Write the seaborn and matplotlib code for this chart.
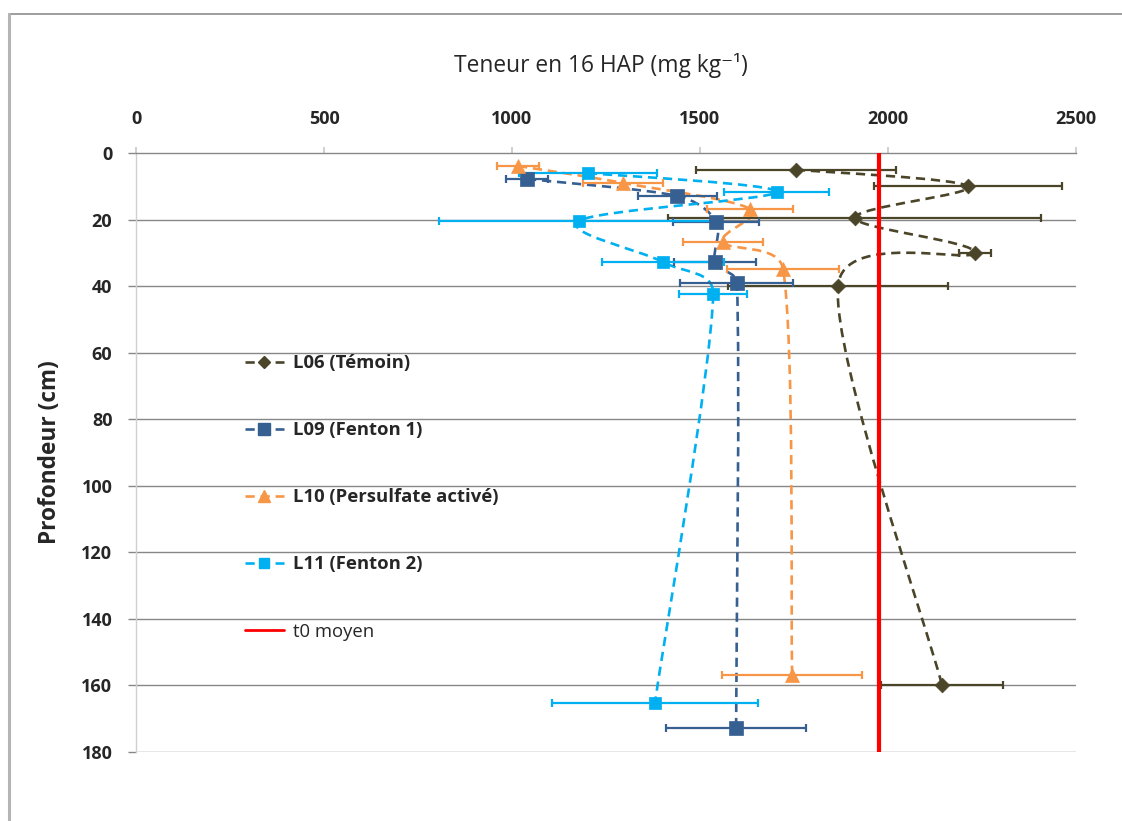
import numpy as np
import pandas as pd
import matplotlib
matplotlib.use("Agg")
import matplotlib.pyplot as plt
import seaborn as sns
from matplotlib.path import Path
from matplotlib.patches import PathPatch
from matplotlib.lines import Line2D

# ---- data (teneur en mg/kg, profondeur en cm) ----
l06_hap = [1755, 2213, 1912, 2231, 1867, 2144]
l06_prof = [5, 10, 19.5, 30, 40, 160]
l06_err = [265, 250, 496, 43, 293, 162]

l09_hap = [1040, 1439, 1543, 1540, 1598, 1596]
l09_prof = [7.8, 12.9, 20.6, 32.8, 39, 172.8]
l09_err = [57, 105, 115, 108, 150, 186]

l10_hap = [1016, 1295, 1633, 1561, 1721, 1745]
l10_prof = [3.9, 9, 16.8, 26.7, 34.9, 156.8]
l10_err = [56, 106, 114, 107, 150, 186]

l11_hap = [1202, 1704, 1178, 1402, 1535, 1380]
l11_prof = [6, 11.7, 20.4, 32.8, 42.4, 165.3]
l11_err = [184, 140, 372, 162, 90, 273]

t0_moyen = 1975

series = [
    ("L06 (Témoin)", l06_hap, l06_prof, l06_err, "#4A4529", "D", 7.5),
    ("L09 (Fenton 1)", l09_hap, l09_prof, l09_err, "#376092", "s", 9.5),
    ("L10 (Persulfate activé)", l10_hap, l10_prof, l10_err, "#F79646", "^", 10),
    ("L11 (Fenton 2)", l11_hap, l11_prof, l11_err, "#00B0F0", "s", 9),
]


def smooth_path(ax, x, y, k=0.4):
    # excel-like smoothed line: catmull-rom tangents, arms clamped by segment length
    # (worked out in pixel space, then mapped back to data)
    P = ax.transData.transform(np.column_stack([x, y]).astype(float))
    n = len(P)
    d = np.hypot(*(P[1:] - P[:-1]).T)
    verts = [P[0]]
    codes = [Path.MOVETO]
    for i in range(n - 1):
        t1 = P[i + 1] - P[max(i - 1, 0)]
        t2 = P[min(i + 2, n - 1)] - P[i]
        a1 = min(np.hypot(*t1) / 6, k * d[i])
        a2 = min(np.hypot(*t2) / 6, k * d[i])
        verts += [P[i] + t1 / np.hypot(*t1) * a1,
                  P[i + 1] - t2 / np.hypot(*t2) * a2, P[i + 1]]
        codes += [Path.CURVE4] * 3
    verts = ax.transData.inverted().transform(np.array(verts))
    return Path(verts, codes)


sns.set_theme(style="white")
plt.rcParams["font.family"] = ["Open Sans", "DejaVu Sans"]

W, H = 1122, 821
fig = plt.figure(figsize=(W / 100, H / 100), dpi=100)
ax = fig.add_axes([136 / W, 1 - 752 / H, 940 / W, 599 / H])
ax.set_xlim(0, 2500)
ax.set_ylim(180, 0)

grid_col = "#878787"

for name, xs, ys, errs, col, mk, ms in series:
    ax.add_patch(PathPatch(smooth_path(ax, xs, ys), fill=False, ec=col, lw=1.9,
                           ls=(0, (3.5, 2.2)), zorder=3))
    ax.errorbar(xs, ys, xerr=errs, fmt="none", ecolor=col, elinewidth=1.6,
                capsize=3.2, capthick=1.6, zorder=4)
    df = pd.DataFrame({"hap": xs, "prof": ys})
    sns.scatterplot(data=df, x="hap", y="prof", ax=ax, color=col, marker=mk,
                    s=ms ** 2, edgecolor=col, linewidth=0.5, zorder=5, legend=False)

ax.axvline(t0_moyen, color="#FF0000", lw=3.0, zorder=6)

ax.set_xlim(0, 2500)
ax.set_ylim(180, 0)
ax.set_xticks(np.arange(0, 2501, 500))
ax.set_yticks(np.arange(0, 181, 20))
ax.xaxis.tick_top()
ax.xaxis.set_label_position("top")

for v in np.arange(20, 181, 20):
    ax.axhline(v, color=grid_col, lw=1.0, zorder=1)

ax.spines["top"].set_color(grid_col)
ax.spines["top"].set_linewidth(1.0)
ax.spines["left"].set_color("#D0D0D0")
ax.spines["left"].set_linewidth(1.0)
ax.spines["right"].set_visible(False)
ax.spines["bottom"].set_visible(False)

ax.tick_params(axis="x", top=True, direction="out", length=4, width=1.2,
               color="#C8C8C8", pad=14, labelsize=13)
ax.tick_params(axis="y", left=True, direction="out", length=6, width=1.0,
               color=grid_col, pad=11, labelsize=13)
for lab in ax.get_xticklabels() + ax.get_yticklabels():
    lab.set_fontweight("bold")

ax.set_xlabel("Teneur en 16 HAP (mg kg⁻¹)", fontsize=16.4)
ax.xaxis.set_label_coords(0.5 - 5 / 940, 1 + (153 - 72) / 599)
ax.xaxis.label.set_verticalalignment("baseline")
ax.set_ylabel("Profondeur (cm)", fontsize=16.3, fontweight="bold")
ax.yaxis.set_label_coords(-0.079, 0.5)

handles = [Line2D([0], [0], color=col, lw=1.9, ls=(0, (3.5, 2.2)), marker=mk,
                  markersize=ms * 0.85, markerfacecolor=col, markeredgecolor=col)
           for name, xs, ys, errs, col, mk, ms in series]
handles.append(Line2D([0], [0], color="#FF0000", lw=2.0))
labels = [s[0] for s in series] + ["t0 moyen"]
leg = ax.legend(handles, labels, loc="upper left",
                bbox_to_anchor=((245 - 136) / 940, 1 - (354 - 153) / 599),
                frameon=False, fontsize=13.3, labelspacing=2.66,
                handlelength=2.1, handletextpad=0.5, borderpad=0, borderaxespad=0)
for t in leg.get_texts()[:4]:
    t.set_fontweight("bold")

# outer chart border (left and top edges visible)
fig.add_artist(Line2D([9 / W, 1], [1 - 14 / H, 1 - 14 / H], color="#8C8C8C", lw=1.2))
fig.add_artist(Line2D([9 / W, 9 / W], [0, 1 - 14 / H], color="#B4B4B4", lw=2.2))

fig.savefig("out.png", dpi=100, facecolor="white")
